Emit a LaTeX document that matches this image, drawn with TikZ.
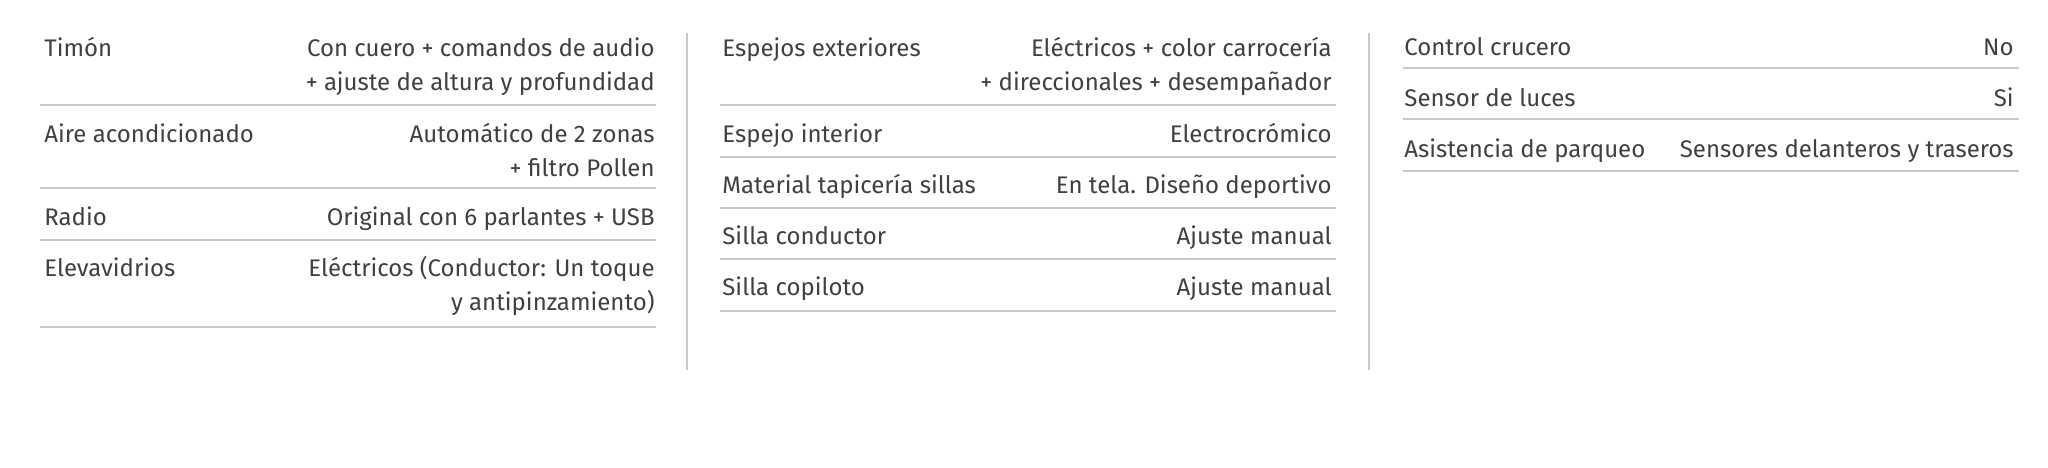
\documentclass[tikz,border=0pt]{standalone}
\usepackage{fontspec}
\setmainfont{Fira Sans}
\usepackage{tikz}
\usetikzlibrary{positioning}
\usepackage{xcolor}
\definecolor{spectext}{HTML}{404040}
\definecolor{specrule}{HTML}{C8C8C8}
\tikzset{
  spec/.style={inner sep=0pt,text=spectext,font=\fontsize{12}{17.25}\selectfont},
  speclabel/.style={spec,anchor=base west},
  specvalue/.style={spec,anchor=base east,align=right},
  specrow/.style={draw=specrule,line width=1pt},
  specdivider/.style={draw=specrule,line width=1pt}
}
\begin{document}
\begin{tikzpicture}[x=0.5pt,y=-0.5pt]
            \useasboundingbox (0,0) rectangle (2048,467);
            % left column (two-line values sit on their last baseline)
            \node[speclabel] (timon) at (44,56) {Timón};
            \node[specvalue] (timonv) at (655,90.5) {Con cuero + comandos de audio\\+ ajuste de altura y profundidad};
            \draw[specrow] (40,105) -- (656,105);
            \node[speclabel] (aire) at (44,142) {Aire acondicionado};
            \node[specvalue] (airev) at (655,176.5) {Automático de 2 zonas\\+ filtro Pollen};
            \draw[specrow] (40,188) -- (656,188);
            \node[speclabel] (radio) at (44,225) {Radio};
            \node[specvalue] (radiov) at (655,225) {Original con 6 parlantes + USB};
            \draw[specrow] (40,240) -- (656,240);
            \node[speclabel] (elev) at (44,276) {Elevavidrios};
            \node[specvalue] (elevv) at (655,310.5) {Eléctricos (Conductor: Un toque\\y antipinzamiento)};
            \draw[specrow] (40,327) -- (656,327);
            \draw[specdivider] (687.3,33.3) -- (687.3,370);
            % middle column
            \node[speclabel] (espext) at (722,56) {Espejos exteriores};
            \node[specvalue] (espextv) at (1332,90.5) {Eléctricos + color carrocería\\+ direccionales + desempañador};
            \draw[specrow] (720,104.5) -- (1336,104.5);
            \node[speclabel] (espint) at (722,142) {Espejo interior};
            \node[specvalue] (espintv) at (1332,142) {Electrocrómico};
            \draw[specrow] (720,157) -- (1336,157);
            \node[speclabel] (tapiceria) at (722,193) {Material tapicería sillas};
            \node[specvalue] (tapiceriav) at (1332,193) {En tela. Diseño deportivo};
            \draw[specrow] (720,208) -- (1336,208);
            \node[speclabel] (conductor) at (722,244) {Silla conductor};
            \node[specvalue] (conductorv) at (1332,244) {Ajuste manual};
            \draw[specrow] (720,258.5) -- (1336,258.5);
            \node[speclabel] (copiloto) at (722,295) {Silla copiloto};
            \node[specvalue] (copilotov) at (1332,295) {Ajuste manual};
            \draw[specrow] (720,311) -- (1336,311);
            \draw[specdivider] (1369.3,33.3) -- (1369.3,370);
            % right column
            \node[speclabel] (crucero) at (1404,55) {Control crucero};
            \node[specvalue] (crucerov) at (2014,55) {No};
            \draw[specrow] (1403,67.5) -- (2019,67.5);
            \node[speclabel] (luces) at (1404,106) {Sensor de luces};
            \node[specvalue] (lucesv) at (2014,106) {Si};
            \draw[specrow] (1403,118.5) -- (2019,118.5);
            \node[speclabel] (parqueo) at (1404,157) {Asistencia de parqueo};
            \node[specvalue] (parqueov) at (2014,157) {Sensores delanteros y traseros};
            \draw[specrow] (1403,170.5) -- (2019,170.5);
        \end{tikzpicture}
\end{document}
